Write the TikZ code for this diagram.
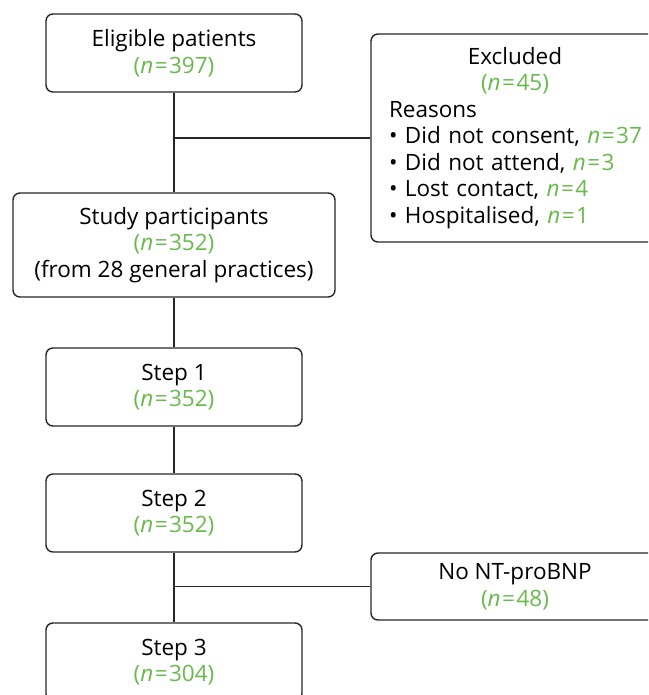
\documentclass[tikz,border=0pt]{standalone}
\usepackage{fontspec}
\setmainfont{Open Sans}
\usepackage{xcolor}
\definecolor{ngreen}{RGB}{104,186,76}
\newcommand{\nval}[1]{\textcolor{ngreen}{\textit{n}\kern1.5pt=\kern1.5pt#1}}
\begin{document}
\begin{tikzpicture}[
    x=1pt, y=-1pt,
    font=\fontsize{22.5}{26.5}\selectfont,
    box/.style={draw=black!85, line width=1.4pt, rounded corners=7pt, align=center, inner sep=0pt},
    mainbox/.style={box, minimum width=256pt, minimum height=78pt},
    sidebox/.style={box, minimum width=288pt},
    link/.style={draw=black!85, line width=1.4pt},
]
\clip (0,0) rectangle (648,695);

% --- main column ---
\node[mainbox] (elig) at (174,53) {Eligible patients\\ \textcolor{ngreen}{(}\nval{397}\textcolor{ngreen}{)}};
\node[mainbox, minimum width=322pt, minimum height=104pt] (study) at (174,245)
    {Study participants\\ \textcolor{ngreen}{(}\nval{352}\textcolor{ngreen}{)}\\ (from 28 general practices)};
\node[mainbox] (step1) at (174,387) {Step 1\\ \textcolor{ngreen}{(}\nval{352}\textcolor{ngreen}{)}};
\node[mainbox] (step2) at (174,513) {Step 2\\ \textcolor{ngreen}{(}\nval{352}\textcolor{ngreen}{)}};
\node[mainbox] (step3) at (174,662) {Step 3\\ \textcolor{ngreen}{(}\nval{304}\textcolor{ngreen}{)}};

% --- side boxes ---
\node[sidebox, minimum height=208pt, align=left, text width=252pt, inner xsep=18pt] (excl) at (515,138)
    {\centering Excluded\\ \textcolor{ngreen}{(}\nval{45}\textcolor{ngreen}{)}\par
     \raggedright Reasons\\
     \mbox{\textbullet\ Did not consent, \nval{37}}\\
     \mbox{\textbullet\ Did not attend, \nval{3}}\\
     \mbox{\textbullet\ Lost contact, \nval{4}}\\
     \mbox{\textbullet\ Hospitalised, \nval{1}}};
\node[sidebox, minimum height=67pt] (nobnp) at (515,586.5)
    {No NT-proBNP\\ \textcolor{ngreen}{(}\nval{48}\textcolor{ngreen}{)}};

% connectors
\draw[link] (elig) -- (study);
\draw[link] (elig |- excl.west) -- (excl.west);
\draw[link] (study) -- (step1);
\draw[link] (step1) -- (step2);
\draw[link] (step2) -- (step3);
\draw[link] (step2 |- nobnp.west) -- (nobnp.west);

\end{tikzpicture}
\end{document}
